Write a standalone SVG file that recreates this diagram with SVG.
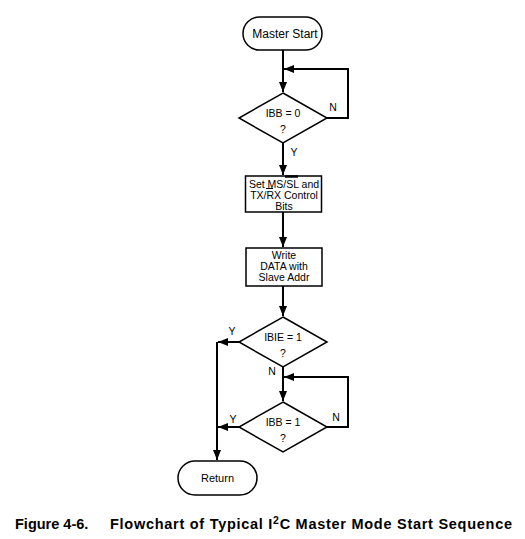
<svg xmlns="http://www.w3.org/2000/svg" width="525" height="539" viewBox="0 0 525 539">
<defs>
<marker id="ah" viewBox="0 0 10 10" refX="10" refY="5" markerWidth="10" markerHeight="10" markerUnits="userSpaceOnUse" orient="auto">
<path d="M0,1 L10,5 L0,9 Z" fill="#000"/>
</marker>
</defs>
<style>
.sh{fill:#fff;stroke:#000;stroke-width:1.5}
.t{font-family:"Liberation Sans",Arial,sans-serif;font-size:10.5px;fill:#000;text-anchor:middle}
.c{fill:none;stroke:#000;stroke-width:2}
.cap{font-family:"Liberation Sans",Arial,sans-serif;font-size:14.5px;font-weight:bold;fill:#000}
</style>
<rect width="525" height="539" fill="#fff"/>
<g id="connectors">
<path class="c" d="M283,50 L283,92" marker-end="url(#ah)"/>
<path class="c" d="M327,118 L348,118 L348,69 L284,69" marker-end="url(#ah)"/>
<path class="c" d="M283,143 L283,175" marker-end="url(#ah)"/>
<path class="c" d="M283,212 L283,247" marker-end="url(#ah)"/>
<path class="c" d="M283,286 L283,316" marker-end="url(#ah)"/>
<path class="c" d="M239,342 L218,342" marker-end="url(#ah)"/>
<path class="c" d="M283,367 L283,401" marker-end="url(#ah)"/>
<path class="c" d="M327,427 L348,427 L348,377 L284,377" marker-end="url(#ah)"/>
<path class="c" d="M239,427 L218,427" marker-end="url(#ah)"/>
<path class="c" d="M217,342 L217,460" marker-end="url(#ah)"/>
<text class="t" x="333" y="111">N</text>
<text class="t" x="294" y="156">Y</text>
<text class="t" x="232" y="335">Y</text>
<text class="t" x="272" y="375">N</text>
<text class="t" x="233" y="423">Y</text>
<text class="t" x="336" y="421">N</text>
</g>
<g id="master-start">
<rect class="sh" x="243" y="17" width="79" height="33" rx="16.5" ry="16.5"/>
<text class="t" x="285" y="38" style="font-size:12px">Master Start</text>
</g>
<g id="ibb0">
<path class="sh" d="M283,93 L327,118 L283,143 L239,118 Z"/>
<text class="t" x="283" y="117">IBB = 0</text>
<text class="t" x="283" y="133">?</text>
</g>
<g id="set-bits">
<rect class="sh" x="245.5" y="176" width="76" height="36"/>
<text class="t" x="284" y="187.5">Set MS/SL and</text>
<text class="t" x="284" y="198.5">TX/RX Control</text>
<text class="t" x="284" y="209.5">Bits</text>
<line x1="266" y1="188.5" x2="273" y2="188.5" stroke="#000" stroke-width="1"/>
<line x1="285" y1="176.5" x2="298" y2="176.5" stroke="#000" stroke-width="2.5"/>
</g>
<g id="write-data">
<rect class="sh" x="246" y="248" width="76" height="38"/>
<text class="t" x="284" y="259">Write</text>
<text class="t" x="284" y="270">DATA with</text>
<text class="t" x="284" y="281">Slave Addr</text>
</g>
<g id="ibie1">
<path class="sh" d="M283,317 L327,342 L283,367 L239,342 Z"/>
<text class="t" x="283" y="341">IBIE = 1</text>
<text class="t" x="283" y="357">?</text>
</g>
<g id="ibb1">
<path class="sh" d="M283,402 L327,427 L283,452 L239,427 Z"/>
<text class="t" x="283" y="426">IBB = 1</text>
<text class="t" x="283" y="442">?</text>
</g>
<g id="return">
<rect class="sh" x="178" y="461" width="79" height="34" rx="17" ry="17"/>
<text class="t" x="217.5" y="482" style="font-size:11px">Return</text>
</g>
<text class="cap" x="15" y="529">Figure 4-6.</text>
<text class="cap" x="110" y="529" textLength="402" lengthAdjust="spacing">Flowchart of Typical I<tspan dy="-5" font-size="10.5">2</tspan><tspan dy="5">C Master Mode Start Sequence</tspan></text>
</svg>
